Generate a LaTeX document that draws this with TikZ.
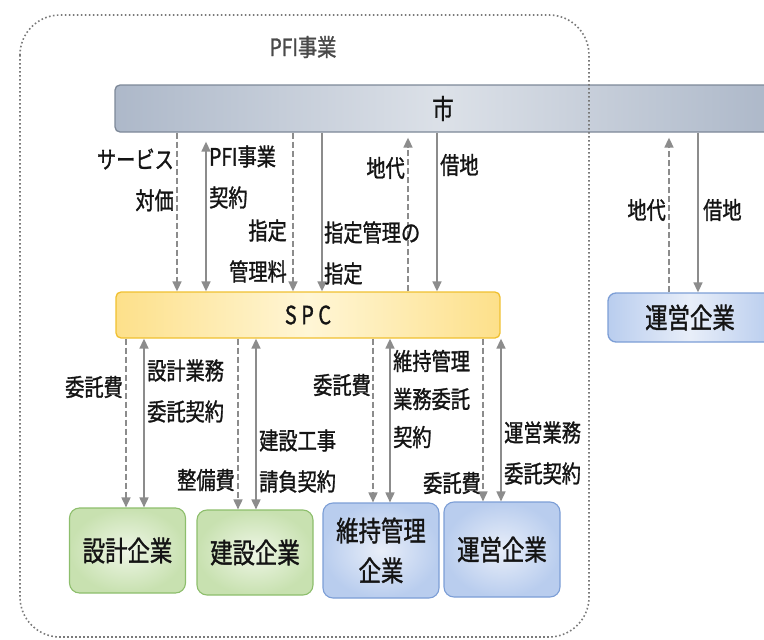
\documentclass[tikz,border=0pt]{standalone}
\usepackage{fontspec}
\newfontfamily\jpfont[FakeStretch=0.8, FakeBold=1.2]{Noto Sans CJK JP}
\usetikzlibrary{arrows.meta, positioning}
\definecolor{flowgray}{HTML}{8C8C8C}
\definecolor{framegray}{HTML}{7A7A7A}
\definecolor{inkgray}{HTML}{141414}
\definecolor{shiedge}{HTML}{7D8898}
\definecolor{shiside}{HTML}{ADB8C9}
\definecolor{shimid}{HTML}{DCE1E8}
\definecolor{spcedge}{HTML}{F0C030}
\definecolor{spcside}{HTML}{FDE08A}
\definecolor{spcmid}{HTML}{FFF6D6}
\definecolor{greenedge}{HTML}{8DBE6C}
\definecolor{greenin}{HTML}{EEF6E6}
\definecolor{greenout}{HTML}{C8E1B0}
\definecolor{blueedge}{HTML}{7C9ED6}
\definecolor{bluein}{HTML}{E8EEF9}
\definecolor{blueout}{HTML}{B9CDEE}
\tikzset{
    bar/.style={draw, rounded corners=5pt, line width=1.3pt, inner sep=0pt, text=inkgray},
    firm/.style={draw, rounded corners=10pt, line width=1.1pt, minimum width=116pt, align=center, text=inkgray,
        font=\jpfont\fontsize{28}{40}\selectfont},
    greenfirm/.style={firm, draw=greenedge, inner color=greenin, outer color=greenout, minimum height=85pt},
    bluefirm/.style={firm, draw=blueedge, inner color=bluein, outer color=blueout, minimum height=95pt},
    money/.style={-{Triangle[length=10pt, width=9pt]}, draw=flowgray, line width=1.6pt, dash pattern=on 6pt off 3pt},
    deed/.style={-{Triangle[length=10pt, width=9pt]}, draw=flowgray, line width=1.6pt},
    contract/.style={{Triangle[length=10pt, width=9pt]}-{Triangle[length=10pt, width=9pt]}, draw=flowgray, line width=1.6pt},
    tag/.style={inner sep=0pt, text=inkgray, font=\jpfont\fontsize{24}{41}\selectfont}
}

\begin{document}
\begin{tikzpicture}[x=1pt, y=-1pt]
    \clip (0,0) rectangle (764,640);
    % City band
    \node[bar, draw=shiedge, left color=shiside, right color=shiside, middle color=shimid,
        minimum width=656pt, minimum height=47pt, font=\jpfont\fontsize{27}{30}\selectfont] (shi) at (443,108.5) {市};
    % SPC band
    \node[bar, draw=spcedge, left color=spcside, right color=spcside, middle color=spcmid,
        minimum width=384pt, minimum height=46pt, font=\jpfont\fontsize{25}{30}\selectfont] (spc) at (308,315) {S P C};
    % Operator outside the PFI project
    \node[bar, rounded corners=8pt, draw=blueedge, left color=blueout, right color=blueout, middle color=bluein,
        minimum width=164pt, minimum height=49pt, font=\jpfont\fontsize{28}{30}\selectfont] (uneiout) at (690,317.5) {運営企業};
    % Firms under the SPC
    \node[greenfirm] (sekkei) at (127.5,550.5) {設計企業};
    \node[greenfirm] (kensetsu) at (255,552.5) {建設企業};
    \node[bluefirm] (iji) at (381,550.5) {維持管理\\企業};
    \node[bluefirm] (unei) at (502,549.5) {運営企業};

    % City and SPC
    \draw[money] (shi.south -| 177,0) -- (spc.north -| 177,0);
    \draw[contract, shorten <=9pt] (shi.south -| 206,0) -- (spc.north -| 206,0);
    \draw[money] (shi.south -| 293,0) -- (spc.north -| 293,0);
    \draw[deed] (shi.south -| 322,0) -- (spc.north -| 322,0);
    \draw[money, shorten >=5pt] (spc.north -| 408,0) -- (shi.south -| 408,0);
    \draw[deed] (shi.south -| 437,0) -- (spc.north -| 437,0);
    \node[tag, anchor=east, align=right] (taika) at (174,180) {サービス\\対価};
    \node[tag, anchor=west, align=left] (pfikeiyaku) at (209,177) {PFI事業\\契約};
    \node[tag, anchor=east, align=right] (shiteiryo) at (287,251) {指定\\管理料};
    \node[tag, anchor=west, align=left] (shitei) at (324,253) {指定管理の\\指定};
    \node[tag, anchor=east] (chidai) at (405,168) {地代};
    \node[tag, anchor=west] (shakuchi) at (440,165) {借地};

    % City and outside operator
    \draw[money, shorten >=5pt] (uneiout.north -| 669,0) -- (shi.south -| 669,0);
    \draw[deed] (shi.south -| 698,0) -- (uneiout.north -| 698,0);
    \node[tag, anchor=east] (chidaiout) at (666,210) {地代};
    \node[tag, anchor=west] (shakuchiout) at (703,210) {借地};

    % SPC and firms
    \draw[money] (spc.south -| 126,0) -- (sekkei.north -| 126,0);
    \draw[contract] (spc.south -| 144,0) -- (sekkei.north -| 144,0);
    \draw[money] (spc.south -| 238,0) -- (kensetsu.north -| 238,0);
    \draw[contract] (spc.south -| 256,0) -- (kensetsu.north -| 256,0);
    \draw[money] (spc.south -| 373,0) -- (iji.north -| 373,0);
    \draw[contract] (spc.south -| 390,0) -- (iji.north -| 390,0);
    \draw[money] (spc.south -| 483,0) -- (unei.north -| 483,0);
    \draw[contract] (spc.south -| 501,0) -- (unei.north -| 501,0);
    \node[tag, anchor=east] (itaku1) at (123,387) {委託費};
    \node[tag, anchor=west, align=left] (sekkeikeiyaku) at (147,391) {設計業務\\委託契約};
    \node[tag, anchor=east] (seibi) at (235,480) {整備費};
    \node[tag, anchor=west, align=left] (kensetsukeiyaku) at (259,461) {建設工事\\請負契約};
    \node[tag, anchor=east] (itaku2) at (371,385) {委託費};
    \node[tag, anchor=west, align=left, font=\jpfont\fontsize{24}{38}\selectfont] (ijikeiyaku) at (393,399) {維持管理\\業務委託\\契約};
    \node[tag, anchor=east] (itaku3) at (481,483) {委託費};
    \node[tag, anchor=west, align=left] (uneikeiyaku) at (504,453) {運営業務\\委託契約};

    % PFI project frame
    \draw[framegray, line width=1.6pt, dash pattern=on 1.6pt off 2.4pt, rounded corners=40pt]
        (20,15) rectangle (589,637);
    \node[text=framegray!60!black, font=\jpfont\fontsize{24}{28}\selectfont] (pfi) at (303,47) {PFI事業};
\end{tikzpicture}
\end{document}
